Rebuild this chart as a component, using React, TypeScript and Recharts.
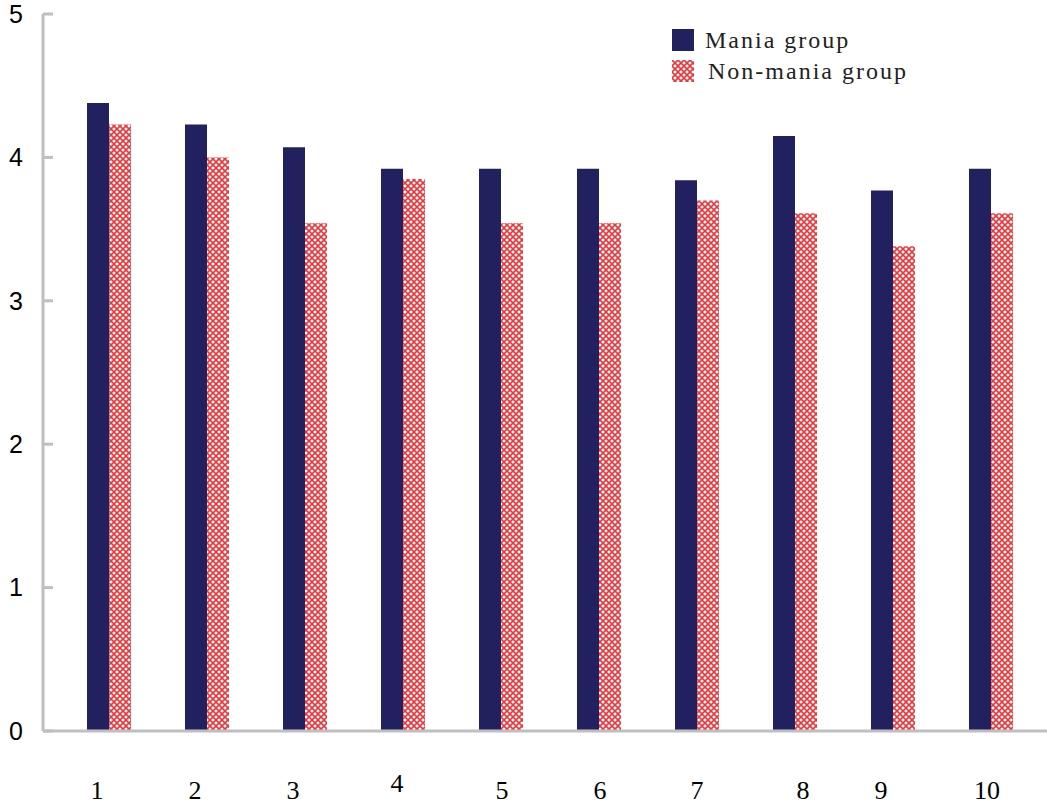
import { Bar, BarChart, XAxis, YAxis } from "recharts";

const categories = ["1", "2", "3", "4", "5", "6", "7", "8", "9", "10"];
const maniaValues = [4.38, 4.23, 4.07, 3.92, 3.92, 3.92, 3.84, 4.15, 3.77, 3.92];
const nonManiaValues = [4.23, 4.0, 3.54, 3.85, 3.54, 3.54, 3.7, 3.61, 3.38, 3.61];
const yTicks = [0, 1, 2, 3, 4, 5];

const data = categories.map((name, i) => ({
  name,
  mania: maniaValues[i],
  nonMania: nonManiaValues[i],
}));

// small nudges of the category labels as they sit in the original
const labelNudge: Record<string, [number, number]> = {
  "1": [-12, 0],
  "2": [-12, 0],
  "3": [-12, 0],
  "4": [-6, -7],
  "5": [1, 0],
  "6": [1, 0],
  "7": [0, 0],
  "8": [8, 0],
  "9": [-12, 0],
  "10": [-4, 0],
};

const NAVY = "#22215f";
const RED = "#e8383d";
const AXIS = "#bfbfbf";

function CategoryTick(props: any) {
  const { x, payload } = props;
  const [dx, dy] = labelNudge[payload.value] ?? [0, 0];
  return (
    <text
      x={x + dx}
      y={790 + dy}
      textAnchor="middle"
      dominantBaseline="central"
      fontFamily="'Liberation Serif', serif"
      fontSize={26}
      fill="#000"
    >
      {payload.value}
    </text>
  );
}

function LegendBox() {
  const row = { display: "flex", alignItems: "center", height: 31 };
  const text = {
    fontFamily: "'Liberation Serif', serif",
    fontSize: 24,
    letterSpacing: 2,
    color: "#222",
    marginLeft: 11,
    lineHeight: "24px",
  };
  return (
    <div style={{ position: "absolute", left: 672, top: 24 }}>
      <div style={row}>
        <div style={{ width: 22, height: 22, background: NAVY }} />
        <span style={text}>Mania group</span>
      </div>
      <div style={row}>
        <svg width={22} height={22} style={{ display: "block" }}>
          <rect width={22} height={22} fill="url(#nonManiaPattern)" />
        </svg>
        <span style={{ ...text, marginLeft: 14 }}>Non-mania group</span>
      </div>
    </div>
  );
}

export default function App() {
  return (
    <div style={{ position: "absolute", left: 0, top: 0, background: "#fff" }}>
      <BarChart
        width={1047}
        height={808}
        data={data}
        margin={{ top: 14, right: 0, bottom: 0, left: 0 }}
        barGap={0}
        barSize={22}
      >
        <defs>
          <pattern
            id="nonManiaPattern"
            width={6}
            height={6}
            patternUnits="userSpaceOnUse"
          >
            <rect width={6} height={6} fill="#fff" />
            <path d="M0,0 L6,6 M6,0 L0,6" stroke={RED} strokeWidth={1.6} />
            <path
              d="M-1,5 L1,7 M5,-1 L7,1 M-1,1 L1,-1 M5,7 L7,5"
              stroke={RED}
              strokeWidth={1.6}
            />
          </pattern>
        </defs>
        <XAxis
          dataKey="name"
          height={77}
          padding={{ left: 17, right: 7 }}
          axisLine={{ stroke: AXIS, strokeWidth: 3 }}
          tickLine={false}
          tickSize={0}
          tick={CategoryTick}
          interval={0}
        />
        <YAxis
          width={43}
          domain={[0, 5]}
          ticks={yTicks}
          interval={0}
          axisLine={{ stroke: AXIS, strokeWidth: 3 }}
          tickLine={{ stroke: AXIS, strokeWidth: 3 }}
          tickSize={-10}
          tickMargin={30}
          tick={{
            fill: "#000",
            fontSize: 25,
            fontFamily: "'Liberation Sans', Arial, sans-serif",
          }}
        />
        <Bar dataKey="mania" fill={NAVY} isAnimationActive={false} />
        <Bar
          dataKey="nonMania"
          fill="url(#nonManiaPattern)"
          isAnimationActive={false}
        />
      </BarChart>
      <LegendBox />
    </div>
  );
}
